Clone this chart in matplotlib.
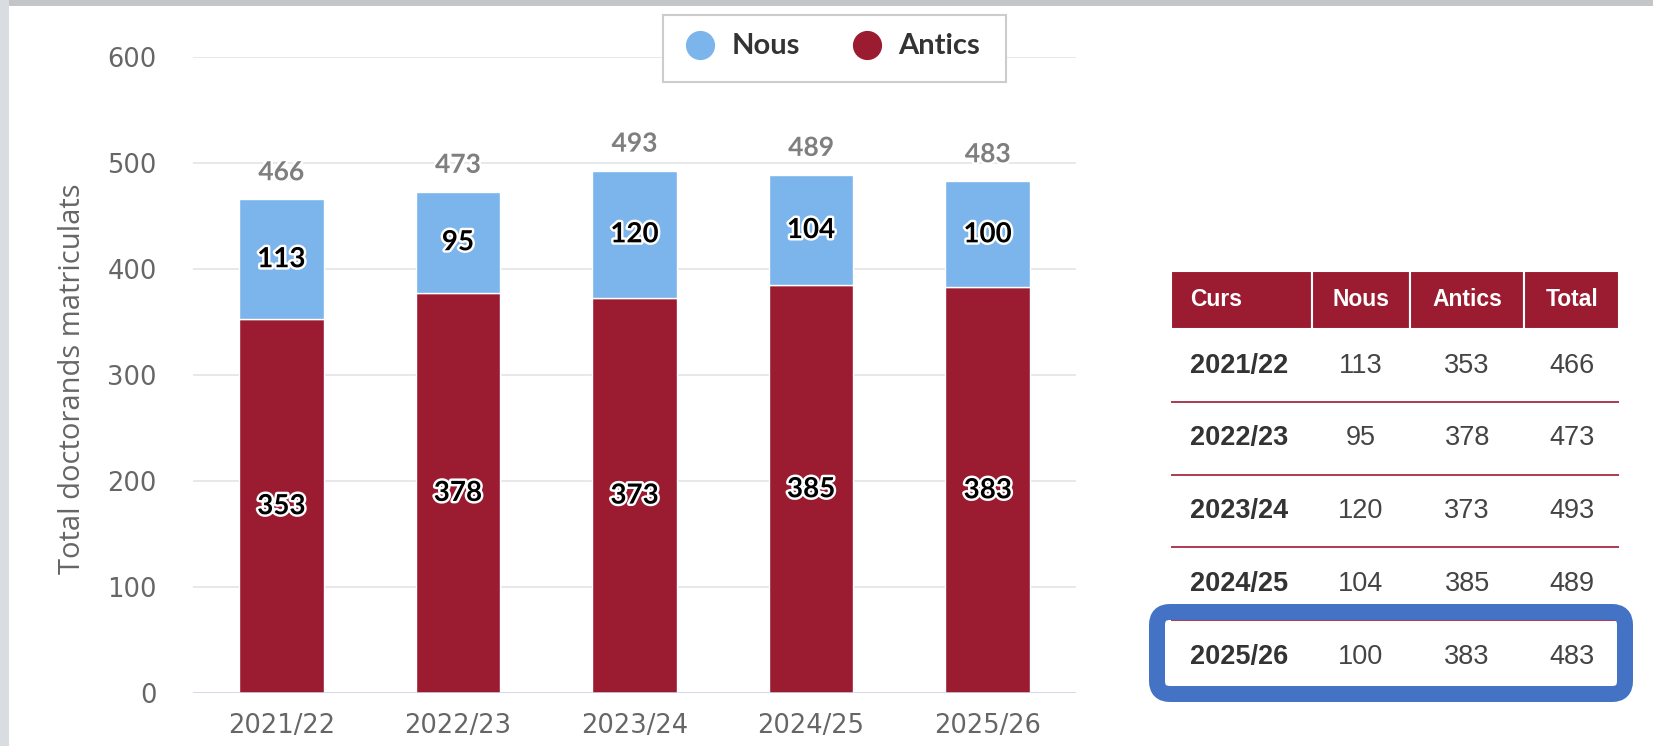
import matplotlib
matplotlib.use("Agg")
import matplotlib.pyplot as plt
import matplotlib.patheffects as pe
from matplotlib.patches import Rectangle, FancyBboxPatch
from matplotlib.lines import Line2D
import numpy as np

# dades
cursos = ["2021/22", "2022/23", "2023/24", "2024/25", "2025/26"]
nous = [113, 95, 120, 104, 100]
antics = [353, 378, 373, 385, 383]
totals = [466, 473, 493, 489, 483]
y_ticks = [0, 100, 200, 300, 400, 500, 600]
col_labels = ["Curs", "Nous", "Antics", "Total"]

W, H = 1653, 746
C_NOUS = "#7cb5ec"
C_ANTICS = "#9b1b31"
C_TXT = "#666666"

fig = plt.figure(figsize=(W / 100, H / 100), dpi=100)
fig.patch.set_facecolor("white")

# franja grisa de la captura
fig.patches.append(Rectangle((0, 1 - 6 / H), 1, 6 / H, transform=fig.transFigure,
                             fc="#c3c5c8", ec="none", zorder=0))
fig.patches.append(Rectangle((0, 0), 8.5 / W, 1, transform=fig.transFigure,
                             fc="#d9dce0", ec="none", zorder=0))

####################################################################################
# gràfic de barres

ax = fig.add_axes([193 / W, (H - 693.3) / H, 883 / W, 636 / H])
x = np.arange(len(cursos))
bw = 0.48
ax.bar(x, antics, bw, color=C_ANTICS, edgecolor="white", linewidth=1, zorder=2)
ax.bar(x, nous, bw, bottom=antics, color=C_NOUS, edgecolor="white", linewidth=1, zorder=2)

ax.set_xlim(-0.5, len(cursos) - 0.5)
ax.set_ylim(0, 600)
ax.set_yticks(y_ticks)
ax.set_xticks(x)
ax.set_xticklabels(cursos)
for s in ax.spines.values():
    s.set_visible(False)
ax.axhline(0, color="#ccd6eb", lw=1.8, zorder=3)
ax.grid(axis="y", color="#e6e6e6", lw=1.3, zorder=0)
ax.tick_params(axis="both", length=0, colors=C_TXT, labelsize=18.5)
ax.tick_params(axis="y", pad=26)
ax.tick_params(axis="x", pad=14)
for lab in ax.get_xticklabels() + ax.get_yticklabels():
    lab.set_family("DejaVu Sans")

ax.set_ylabel("Total doctorands matriculats", family="Open Sans", fontsize=21,
              color=C_TXT, va="center")
ax.yaxis.set_label_coords((72.5 - 193) / 883, (693.3 - 379) / 636)

stroke = [pe.withStroke(linewidth=3.5, foreground="white")]
for i in range(len(cursos)):
    ax.text(x[i], antics[i] / 2, str(antics[i]), ha="center", va="center",
            family="Lato", fontsize=20, fontweight="bold", color="black",
            path_effects=stroke, zorder=5)
    ax.text(x[i], antics[i] + nous[i] / 2, str(nous[i]), ha="center", va="center",
            family="Lato", fontsize=20, fontweight="bold", color="black",
            path_effects=stroke, zorder=5)
    ax.annotate(str(totals[i]), (x[i], totals[i]), xytext=(0, 19.5),
                textcoords="offset points", ha="center", va="center",
                family="Lato", fontsize=19, fontweight="bold", color="#7f7f7f",
                path_effects=stroke, zorder=5)

# llegenda
fig.patches.append(Rectangle((663 / W, 1 - 81.7 / H), (1005.7 - 663) / W, 66.7 / H,
                             transform=fig.transFigure, fc="white", ec="#cccccc",
                             lw=1.5, zorder=4))
for cx, tx, col, lab in [(700, 731.7, C_NOUS, "Nous"), (867, 898, C_ANTICS, "Antics")]:
    fig.add_artist(Line2D([cx / W], [1 - 45 / H], marker="o", markersize=20,
                          color=col, lw=0, transform=fig.transFigure, zorder=5))
    fig.text(tx / W, 1 - 46.5 / H, lab, ha="left", va="center", family="Lato",
             fontsize=21, fontweight="bold", color="#333333", zorder=5)

####################################################################################
# taula

tx0, tx1 = 1170.7, 1619.3
ty0, ty1 = 270.7, 693.0
tax = fig.add_axes([tx0 / W, (H - ty1) / H, (tx1 - tx0) / W, (ty1 - ty0) / H])
tax.axis("off")
rows = [[c, str(n), str(a), str(t)] for c, n, a, t in zip(cursos, nous, antics, totals)]
col_w = [141.0, 98.3, 114.3, 95.0]
tbl = tax.table(cellText=rows, colLabels=col_labels, colWidths=col_w,
                bbox=[0, 0, 1, 1], cellLoc="center")
tbl.auto_set_font_size(False)
for (r, c), cell in tbl.get_celld().items():
    cell.set_height(58.6 if r == 0 else 73.0)
    t = cell.get_text()
    t.set_family("Liberation Sans")
    if r == 0:
        cell.set_facecolor(C_ANTICS)
        cell.set_edgecolor("white")
        cell.set_linewidth(1.5)
        t.set_color("white")
        t.set_fontsize(16.5)
        t.set_fontweight("bold")
    else:
        cell.set_facecolor("white")
        cell.set_edgecolor("#ad3a50")
        cell.set_linewidth(1.4)
        cell.visible_edges = "B" if r < len(rows) else "open"
        t.set_fontsize(19.5)
        t.set_color("#333333" if c == 0 else "#444444")
        if c == 0:
            t.set_fontweight("bold")
    if c == 0:
        cell.PAD = 19.3 / 141.0
        cell._loc = "left"
        t.set_horizontalalignment("left")

# requadre blau
fig.patches.append(FancyBboxPatch((1157 / 100, (H - 694) / 100), 4.68, 0.82,
                                  boxstyle="round,pad=0,rounding_size=0.13",
                                  transform=fig.dpi_scale_trans, fc="none",
                                  ec="#4472c4", lw=11.5, zorder=6))

fig.savefig("out.png", dpi=100)
